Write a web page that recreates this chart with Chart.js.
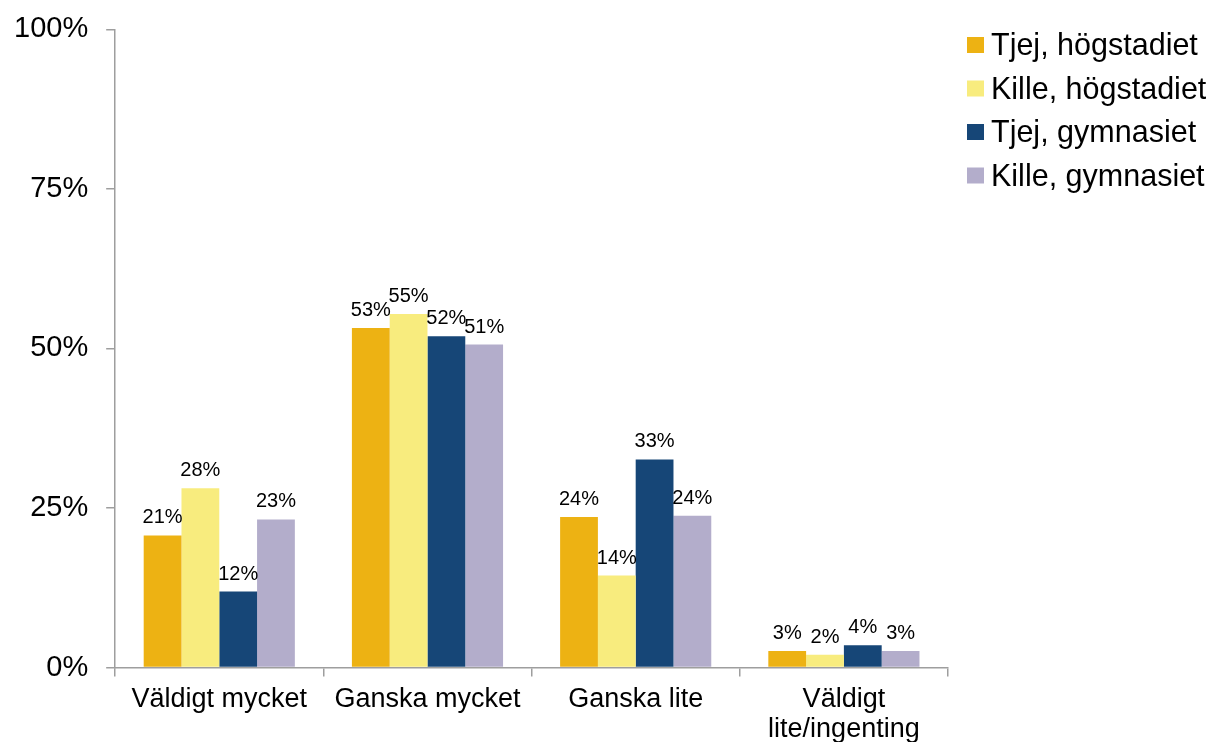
<!DOCTYPE html>
<html>
<head>
<meta charset="utf-8">
<script src="https://cdn.jsdelivr.net/npm/chart.js@4/dist/chart.umd.min.js"></script>
<style>
  html, body { margin: 0; padding: 0; background: #fff; overflow: hidden; }
  #wrap { width: 1210px; height: 742px; }
</style>
</head>
<body>
<div id="wrap"><canvas id="myChart"></canvas></div>
<script>
const categories = ['Väldigt mycket', 'Ganska mycket', 'Ganska lite', ['Väldigt', 'lite/ingenting']];
const seriesNames = ['Tjej, högstadiet', 'Kille, högstadiet', 'Tjej, gymnasiet', 'Kille, gymnasiet'];
const tjejHogstadiet = [20.7, 53.2, 23.6, 2.6];
const killeHogstadiet = [28.1, 55.4, 14.4, 2.0];
const tjejGymnasiet = [11.9, 51.9, 32.6, 3.5];
const killeGymnasiet = [23.2, 50.6, 23.8, 2.6];
const yTicks = [0, 25, 50, 75, 100];

const colors = ['#EDB213', '#F8EC7E', '#164677', '#B3ADCB'];
const FONT = '"Liberation Sans", Arial, sans-serif';

// value labels above each bar
const barLabels = {
  id: 'barLabels',
  afterDatasetsDraw(chart) {
    const ctx = chart.ctx;
    ctx.save();
    ctx.font = '20px ' + FONT;
    ctx.fillStyle = '#000';
    ctx.textAlign = 'center';
    ctx.textBaseline = 'alphabetic';
    chart.data.datasets.forEach((ds, i) => {
      chart.getDatasetMeta(i).data.forEach((bar, j) => {
        ctx.fillText(Math.round(ds.data[j]) + '%', bar.x, bar.y - 12);
      });
    });
    ctx.restore();
  }
};

// legend in the top right corner
const sideLegend = {
  id: 'sideLegend',
  afterDraw(chart) {
    const ctx = chart.ctx;
    ctx.save();
    ctx.font = '30.5px ' + FONT;
    ctx.textBaseline = 'alphabetic';
    chart.data.datasets.forEach((ds, i) => {
      const base = 55 + i * 43.5;
      ctx.fillStyle = ds.backgroundColor;
      ctx.fillRect(967, base - 18, 17, 16);
      ctx.fillStyle = '#000';
      ctx.fillText(ds.label, 991, base);
    });
    ctx.restore();
  }
};

const ct = document.getElementById('myChart');
new Chart(ct, {
  type: 'bar',
  data: {
    labels: categories,
    datasets: [tjejHogstadiet, killeHogstadiet, tjejGymnasiet, killeGymnasiet].map((d, i) => ({
      label: seriesNames[i],
      data: d,
      backgroundColor: colors[i],
      borderWidth: 0,
      barPercentage: 1,
      categoryPercentage: 0.726
    }))
  },
  options: {
    responsive: true,
    maintainAspectRatio: false,
    animation: false,
    layout: { padding: { left: -4, right: 262, top: 0, bottom: -11 } },
    plugins: {
      legend: { display: false },
      tooltip: { enabled: false }
    },
    scales: {
      x: {
        grid: { display: true, drawOnChartArea: false, drawTicks: true, tickLength: 9, color: '#9E9E9E', lineWidth: 1.5 },
        border: { color: '#9E9E9E', width: 1.5 },
        ticks: { color: '#000', font: { family: FONT, size: 27, lineHeight: 1.12 }, padding: 8, maxRotation: 0 }
      },
      y: {
        min: 0,
        max: 100,
        afterBuildTicks: axis => { axis.ticks = yTicks.map(v => ({ value: v })); },
        grid: { display: true, drawOnChartArea: false, drawTicks: true, tickLength: 9, color: '#9E9E9E', lineWidth: 1.5 },
        border: { color: '#9E9E9E', width: 1.5 },
        ticks: { color: '#000', font: { family: FONT, size: 29, lineHeight: 0.78 }, padding: 18, callback: v => v + '%' }
      }
    }
  },
  plugins: [barLabels, sideLegend]
});
</script>
</body>
</html>
